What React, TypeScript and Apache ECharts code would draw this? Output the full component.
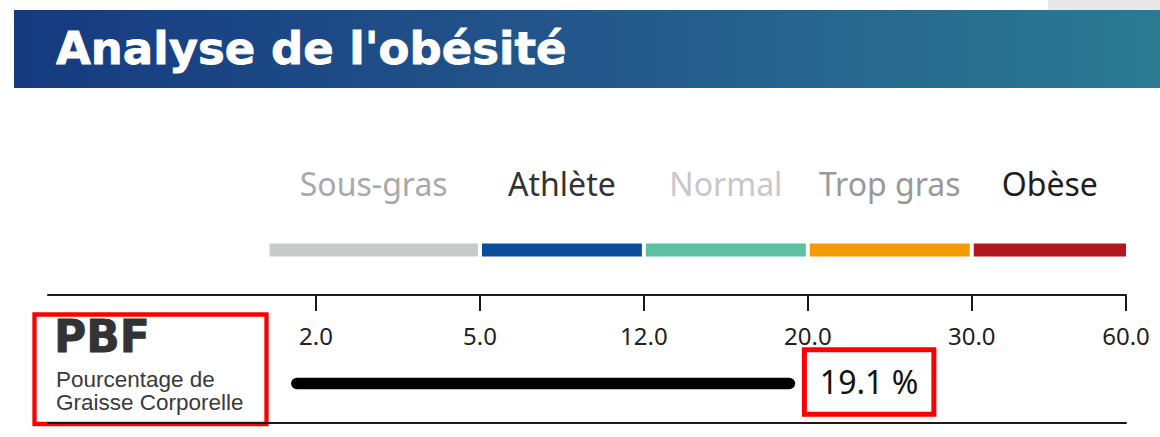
import React, { useEffect, useRef } from 'react';
import * as echarts from 'echarts';

// ---------- data ----------
const TITLE = "Analyse de l'obésité";
const CATEGORIES = ['Sous-gras', 'Athlète', 'Normal', 'Trop gras', 'Obèse'];
const CATEGORY_LOWER = [1.15, 5, 12, 20, 30];
const CATEGORY_UPPER = [5, 12, 20, 30, 60];
const CATEGORY_COLORS = ['#c9cbcb', '#0b4c9c', '#5dc0a0', '#f39a00', '#b0181f'];
const CATEGORY_LABEL_COLORS = ['#a9a9a9', '#333333', '#c8c8c8', '#999999', '#1e1e1e'];
const TICK_VALUES = [2, 5, 12, 20, 30, 60];
const TICK_LABELS = ['2.0', '5.0', '12.0', '20.0', '30.0', '60.0'];
const PBF_VALUE = 19.1;
const PBF_BASE = 1.65;
const PBF_UNIT = '%';
const METRIC_CODE = 'PBF';
const METRIC_NAME = ['Pourcentage de', 'Graisse Corporelle'];

// ---------- layout ----------
const W = 1160;
const H = 437;
const SEGMENT_WEIGHTS = [1, 1, 1, 1, 0.941];
const TICK_POS: number[] = [0];
SEGMENT_WEIGHTS.forEach((w, i) => TICK_POS.push(TICK_POS[i] + w));
const GRID_LEFT = 48;
const GRID_RIGHT_EDGE = 1126;
const FIRST_TICK_PX = 316;
const UNIT_PX = (GRID_RIGHT_EDGE - FIRST_TICK_PX) / TICK_POS[TICK_POS.length - 1];
const AXIS_MIN = (GRID_LEFT - FIRST_TICK_PX) / UNIT_PX;
const AXIS_MAX = TICK_POS[TICK_POS.length - 1];

function toAxis(v: number): number {
  const n = TICK_VALUES.length;
  if (v <= TICK_VALUES[0]) {
    const slope = (TICK_POS[1] - TICK_POS[0]) / (TICK_VALUES[1] - TICK_VALUES[0]);
    return TICK_POS[0] + (v - TICK_VALUES[0]) * slope;
  }
  for (let i = 1; i < n; i++) {
    if (v <= TICK_VALUES[i]) {
      const t = (v - TICK_VALUES[i - 1]) / (TICK_VALUES[i] - TICK_VALUES[i - 1]);
      return TICK_POS[i - 1] + t * (TICK_POS[i] - TICK_POS[i - 1]);
    }
  }
  const slope = (TICK_POS[n - 1] - TICK_POS[n - 2]) / (TICK_VALUES[n - 1] - TICK_VALUES[n - 2]);
  return TICK_POS[n - 1] + (v - TICK_VALUES[n - 1]) * slope;
}

const TICK_AXIS_POS = TICK_VALUES.map(toAxis);

function labelFor(v: number): string {
  let best = 0;
  for (let i = 1; i < TICK_AXIS_POS.length; i++) {
    if (Math.abs(TICK_AXIS_POS[i] - v) < Math.abs(TICK_AXIS_POS[best] - v)) best = i;
  }
  return TICK_LABELS[best];
}

export default function App() {
  const ref = useRef<HTMLDivElement>(null);

  useEffect(() => {
    document.body.style.margin = '0';
    if (!ref.current) return;
    const chart = echarts.init(ref.current, undefined, { renderer: 'svg' });

    const legendData = CATEGORIES.map((c, i) => [
      toAxis(CATEGORY_LOWER[i]),
      toAxis(CATEGORY_UPPER[i]),
      0.5,
      i,
    ]);

    const option: any = {
      animation: false,
      backgroundColor: '#ffffff',
      grid: { left: GRID_LEFT, right: W - GRID_RIGHT_EDGE, top: 295, bottom: H - 423 },
      xAxis: [
        {
          type: 'value',
          position: 'top',
          min: AXIS_MIN,
          max: AXIS_MAX,
          axisLine: { show: true, onZero: false, lineStyle: { color: '#1a1a1a', width: 2 } },
          axisTick: {
            show: true,
            inside: true,
            length: 16,
            customValues: TICK_AXIS_POS,
            lineStyle: { color: '#1a1a1a', width: 2 },
          },
          axisLabel: {
            show: true,
            inside: true,
            margin: 28,
            customValues: TICK_AXIS_POS,
            formatter: (v: number) => labelFor(v),
            fontSize: 24,
            fontFamily: 'Noto Sans',
            color: '#222222',
          },
          splitLine: { show: false },
        },
        {
          type: 'value',
          position: 'bottom',
          min: AXIS_MIN,
          max: AXIS_MAX,
          axisLine: { show: true, onZero: false, lineStyle: { color: '#1a1a1a', width: 2 } },
          axisTick: { show: false },
          axisLabel: { show: false },
          splitLine: { show: false },
        },
      ],
      yAxis: { type: 'value', min: 0, max: 1, show: false },
      series: [
        {
          type: 'custom',
          name: 'categories',
          xAxisIndex: 0,
          clip: false,
          encode: { x: [0, 1], y: 2 },
          data: legendData,
          renderItem: (params: any, api: any) => {
            const i = api.value(3);
            const last = CATEGORIES.length - 1;
            const x0 = api.coord([api.value(0), 0.5])[0] + (i === 0 ? 0 : 2);
            const x1 = api.coord([api.value(1), 0.5])[0] - (i === last ? 0 : 2);
            return {
              type: 'group',
              children: [
                {
                  type: 'rect',
                  shape: { x: x0, y: 243.5, width: x1 - x0, height: 13 },
                  style: { fill: CATEGORY_COLORS[i] },
                },
                {
                  type: 'text',
                  style: {
                    x: (x0 + x1) / 2,
                    y: 183,
                    text: CATEGORIES[i],
                    align: 'center',
                    verticalAlign: 'middle',
                    fontSize: 32,
                    fontFamily: 'Noto Sans',
                    fill: CATEGORY_LABEL_COLORS[i],
                  },
                },
              ],
            };
          },
        },
        {
          type: 'custom',
          name: 'PBF',
          xAxisIndex: 0,
          clip: false,
          encode: { x: [0, 1], y: 2 },
          data: [[toAxis(PBF_BASE), toAxis(PBF_VALUE), 0.5, PBF_VALUE]],
          renderItem: (params: any, api: any) => {
            const xs = api.coord([api.value(0), 0.5])[0];
            const xe = api.coord([api.value(1), 0.5])[0];
            const v = api.value(3);
            return {
              type: 'group',
              children: [
                {
                  type: 'line',
                  shape: { x1: xs, y1: 383.5, x2: xe, y2: 383.5 },
                  style: { stroke: '#000000', lineWidth: 11.6, lineCap: 'round' },
                },
                {
                  type: 'rect',
                  shape: { x: xe + 15, y: 349.8, width: 129.5, height: 64.5 },
                  style: { fill: 'none', stroke: '#ff0000', lineWidth: 5 },
                },
                {
                  type: 'text',
                  style: {
                    x: xe + 30.5,
                    y: 381,
                    text: v.toFixed(1) + ' ' + PBF_UNIT,
                    align: 'left',
                    verticalAlign: 'middle',
                    fontSize: 32,
                    fontFamily: 'Noto Sans',
                    fill: '#111111',
                  },
                },
              ],
            };
          },
        },
      ],
      graphic: [
        {
          type: 'rect',
          shape: { x: 1048, y: 0, width: 112, height: 10 },
          style: { fill: '#e8e8e8' },
        },
        {
          type: 'rect',
          shape: { x: 14, y: 10, width: 1146, height: 78 },
          style: {
            fill: new echarts.graphic.LinearGradient(0, 0, 1, 0, [
              { offset: 0, color: '#153a80' },
              { offset: 0.5, color: '#24578b' },
              { offset: 1, color: '#2b7a92' },
            ]),
          },
        },
        {
          type: 'text',
          style: {
            x: 56,
            y: 48,
            text: TITLE,
            align: 'left',
            verticalAlign: 'middle',
            fontSize: 45,
            fontWeight: 'bold',
            fontFamily: 'DejaVu Sans',
            fill: '#ffffff',
            stroke: '#ffffff',
            lineWidth: 0.8,
          },
        },
        {
          type: 'rect',
          shape: { x: 34.5, y: 314.5, width: 232, height: 109.5 },
          style: { fill: '#ffffff', stroke: '#ff0000', lineWidth: 4.3 },
        },
        {
          type: 'text',
          style: {
            x: 54,
            y: 336.5,
            text: METRIC_CODE,
            align: 'left',
            verticalAlign: 'middle',
            fontSize: 44,
            fontWeight: 'bold',
            fontFamily: 'DejaVu Sans',
            fill: '#333333',
            stroke: '#333333',
            lineWidth: 0.8,
          },
        },
        {
          type: 'text',
          style: {
            x: 56,
            y: 379,
            text: METRIC_NAME[0],
            align: 'left',
            verticalAlign: 'middle',
            fontSize: 22.5,
            fontFamily: 'Liberation Sans',
            fill: '#3a3a3a',
          },
        },
        {
          type: 'text',
          style: {
            x: 56,
            y: 402.5,
            text: METRIC_NAME[1],
            align: 'left',
            verticalAlign: 'middle',
            fontSize: 22.5,
            fontFamily: 'Liberation Sans',
            fill: '#3a3a3a',
          },
        },
      ],
    };

    chart.setOption(option);
    return () => chart.dispose();
  }, []);

  return <div ref={ref} style={{ width: W, height: H }} />;
}
